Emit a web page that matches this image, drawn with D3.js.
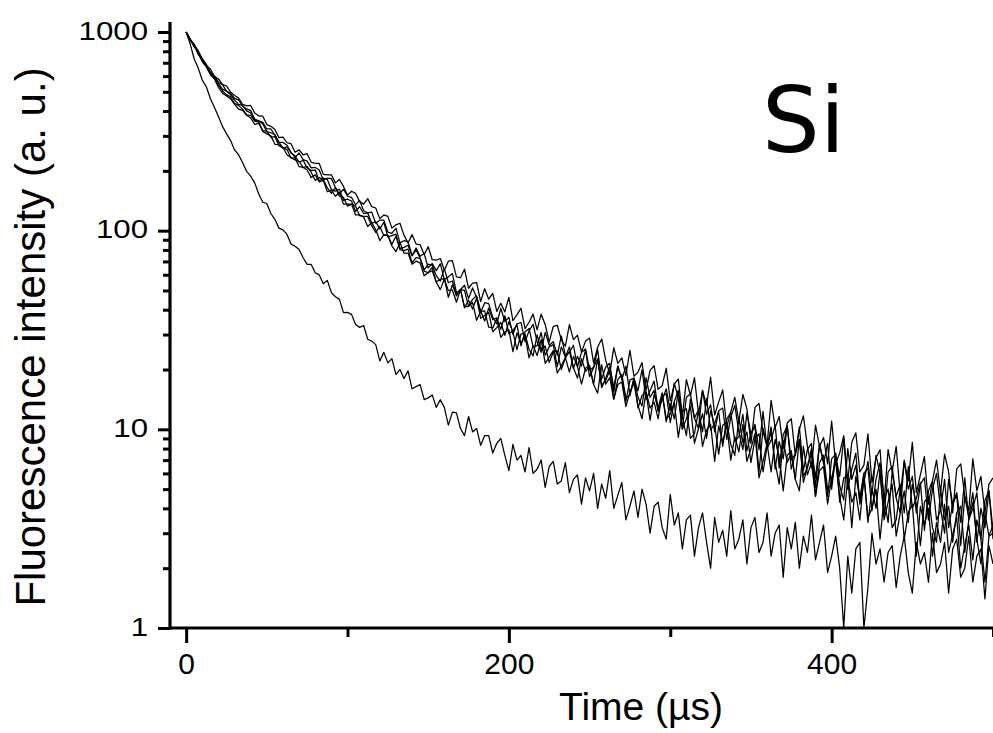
<!DOCTYPE html>
<html><head><meta charset="utf-8">
<script src="https://cdn.jsdelivr.net/npm/d3@7/dist/d3.min.js"></script>
<style>
html,body{margin:0;padding:0;background:#fff;}
svg{display:block;}
</style></head><body>
<svg id="chart" width="993" height="733"></svg>
<script>
// Time base: one sample every 2.5 µs from 0 to 500 µs
const timeStepUs = 2.5;
const sampleCount = 201;

// Fluorescence intensity (a. u.) of the six decay traces
const decayA = [
1000,910,862,805,734,678,651,599,580,546,535,499,479,465,433,425,
427,391,378,377,342,335,323,294,296,277,274,248,255,241,244,221,
218,218,192,191,191,174,181,167,151,158,154,140,136,145,132,130,
115,120,118,103,107,109,95,86.7,95.5,85.6,85.0,75.9,83.0,71.4,71.0,72.4,
63.2,70.2,70.6,58.5,58.0,64.0,51.3,54.4,54.7,44.0,51.0,45.2,48.3,39.2,43.1,39.0,
46.2,35.2,37.7,40.7,32.1,34.6,38.0,31.7,38.0,33.7,27.5,33.0,33.4,28.2,26.2,33.7,28.3,29.8,24.5,27.8,
28.8,21.6,25.9,28.5,22.3,19.0,25.8,21.5,22.9,18.7,25.0,18.5,19.4,21.7,15.7,19.8,20.9,15.9,16.6,20.3,
13.9,16.9,17.9,11.6,17.8,14.8,18.2,12.0,15.7,13.2,18.3,11.8,13.7,15.8,10.3,12.2,14.5,10.9,15.0,12.7,
8.5,12.9,13.5,9.7,8.3,14.0,10.2,11.6,8.0,10.8,11.3,7.4,10.0,11.7,8.2,6.4,10.5,8.2,9.1,6.7,
11.0,6.7,7.6,9.3,5.5,8.6,9.6,6.1,6.6,9.5,5.4,7.2,7.9,4.3,7.9,6.1,8.2,4.7,6.9,5.5,
8.6,4.8,5.9,7.3,4.2,5.5,7.0,4.8,7.5,6.1,3.8,6.3,6.7,4.6,3.9,7.1,4.9,5.8,3.8,5.3,
5.7];
const decayB = [
1000,918,865,776,732,688,626,600,559,543,504,491,463,455,423,410,
402,365,357,351,325,325,303,278,278,269,248,234,246,228,224,207,
208,202,180,184,183,165,153,162,149,147,135,142,126,123,124,109,
113,113,98.4,97.0,103,86.8,89.0,88.0,75.0,81.8,74.3,76.8,64.9,68.4,62.9,68.2,
56.7,58.6,60.8,48.7,50.4,53.1,45.5,51.5,46.2,38.7,43.4,42.9,36.6,34.0,40.7,34.9,
36.6,30.1,34.0,34.5,27.6,31.3,33.8,27.6,24.4,30.8,26.5,27.6,23.6,29.5,23.5,24.4,26.5,20.6,24.4,25.4,
19.9,20.5,25.2,17.9,20.6,21.5,15.4,20.8,17.8,20.8,14.9,18.1,15.6,20.0,14.1,15.7,17.5,12.5,14.0,16.0,
12.4,17.1,14.3,10.1,14.5,15.1,11.4,10.1,15.7,11.9,13.3,9.7,12.4,12.8,8.9,11.5,13.2,9.7,7.9,12.1,
9.5,10.6,7.9,12.3,8.0,8.8,10.5,6.4,9.4,10.4,7.0,7.5,10.3,6.2,7.9,8.5,5.1,8.4,6.7,8.5,
5.0,7.3,5.8,9.0,5.0,6.3,7.6,4.2,5.4,6.9,4.7,7.4,6.0,3.7,6.1,6.5,4.5,3.8,7.0,5.0,
5.8,3.8,5.3,5.7,3.5,5.0,6.0,4.0,3.0,5.6,4.2,4.8,3.4,5.7,3.5,4.0,4.8,2.8,4.4,4.9,
3.1];
const decayC = [
1000,922,861,773,721,682,625,598,552,516,504,484,454,432,427,401,
391,360,356,344,315,311,304,279,260,264,246,238,221,226,207,201,
202,178,184,181,161,158,162,142,144,141,125,132,122,123,109,111,
102,110,93.0,94.4,96.1,81.4,82.4,84.4,74.7,80.0,72.8,63.5,67.8,66.9,59.4,55.8,
64.4,54.7,55.8,46.9,50.5,50.1,41.6,45.1,47.0,39.4,35.1,40.8,35.6,36.4,31.9,37.3,
30.3,31.3,33.7,26.3,31.0,32.2,26.0,26.4,30.7,23.6,26.0,26.7,20.7,26.0,23.1,26.0,20.2,23.3,20.8,25.0,
18.4,20.4,22.7,16.2,18.1,20.6,16.3,20.8,18.0,13.8,17.7,18.1,14.5,13.1,18.2,14.5,15.7,12.3,14.7,15.1,
10.8,13.8,15.7,11.5,9.3,14.2,11.4,12.5,9.7,14.3,9.9,10.7,12.3,8.2,11.2,12.2,8.7,9.2,11.9,7.8,
9.5,10.3,6.1,10.1,8.1,10.3,6.3,8.7,7.1,10.4,6.3,7.5,8.9,5.4,6.5,8.0,5.7,8.4,6.9,4.6,
7.1,7.5,5.2,4.4,8.0,5.6,6.6,4.3,6.0,6.4,3.9,5.6,6.8,4.5,3.4,6.1,4.6,5.3,3.8,6.5,
4.0,4.5,5.4,3.1,4.9,5.5,3.5,3.9,5.6,3.2,4.2,4.7,2.6,4.6,3.6,4.8,2.7,4.0,3.2,4.9,
2.8];
const decayD = [
1000,912,866,779,716,676,615,587,541,505,484,472,438,426,409,383,
380,356,352,319,317,296,297,268,261,256,232,227,223,208,210,197,
179,185,181,164,154,165,149,147,133,136,133,119,118,118,106,97.9,
105,94.6,94.9,85.3,93.7,80.2,79.4,80.7,68.9,73.1,72.5,62.6,61.4,65.3,55.2,56.9,
57.3,46.2,53.4,47.5,50.7,40.9,44.7,40.3,45.8,36.2,37.4,38.8,31.0,32.5,34.5,29.7,
34.8,30.9,25.2,30.2,30.2,25.3,23.4,29.9,25.0,26.3,21.7,24.5,24.8,20.0,22.9,24.7,20.4,18.1,22.7,19.6,
20.6,16.9,22.6,16.7,17.6,19.7,14.2,17.8,18.9,14.4,14.8,18.0,12.8,14.8,15.4,11.1,15.0,12.9,15.2,10.9,
13.5,11.3,15.6,10.0,11.3,13.1,8.5,10.1,12.0,9.0,12.4,10.5,7.5,10.5,10.9,8.4,7.4,11.4,8.6,9.7,
6.8,9.0,9.5,6.1,8.2,9.7,6.8,5.3,8.8,6.8,7.6,5.6,8.9,5.8,6.4,7.6,4.6,6.8,7.4,5.0,
5.3,7.6,4.3,5.7,5.8,3.2,5.8,4.5,6.0,3.4,5.0,4.0,6.2,3.5,4.3,5.3,2.9,3.8,4.9,3.4,
5.3,4.2,2.6,4.3,4.6,3.2,2.7,5.0,3.5,4.1,2.7,3.8,4.1,2.4,3.5,4.3,2.8,2.1,3.8,2.9,
3.3];
const decayE = [
1000,915,840,799,708,667,611,580,527,492,477,462,432,409,403,381,
369,343,347,316,307,300,272,271,262,241,233,232,210,208,202,185,
191,176,179,157,160,149,156,136,136,136,120,120,117,105,110,101,
89.2,95.5,94.4,83.8,78.4,87.3,77.0,77.1,67.8,70.2,68.9,59.3,61.6,62.8,55.1,50.5,
57.1,49.9,50.3,43.6,50.5,41.3,41.6,43.5,35.4,39.2,39.5,32.7,32.4,36.0,29.0,30.9,
31.7,24.6,30.6,27.1,29.7,22.9,26.4,23.5,28.3,21.5,23.1,24.9,19.2,20.9,23.0,19.4,23.3,20.7,16.9,20.3,
21.0,16.8,15.2,21.1,16.9,18.2,14.2,16.8,17.3,13.0,15.4,17.1,13.2,11.3,15.5,12.8,13.7,11.3,15.2,11.3,
11.9,13.7,9.1,12.3,12.7,9.0,9.5,12.5,8.2,9.9,10.6,6.9,10.4,8.6,10.6,7.0,9.2,7.7,10.6,6.9,
8.0,9.5,5.7,6.9,8.5,6.1,8.9,7.3,4.9,7.4,7.8,5.6,4.9,8.2,5.9,6.8,4.6,6.2,6.5,4.2,
5.7,6.9,4.6,3.5,5.7,4.3,4.8,3.5,5.8,3.6,4.0,5.0,2.8,4.5,5.0,3.2,3.5,5.0,2.8,3.8,
4.2,2.3,4.1,3.3,4.0,2.3,3.4,2.7,4.2,2.4,2.95,3.6,2.0,2.6,3.3,2.2,3.5,2.8,1.7,2.9,
3.0];
const decayFast = [
1000,872,731,658,572,530,463,418,376,335,308,285,255,241,220,199,
188,174,153,139,137,122,114,103,101,95.7,85.6,83.5,80.3,73.1,67.7,67.6,
61.4,59.9,54.0,56.2,48.8,46.5,45.1,38.7,38.8,37.9,33.7,32.6,33.3,28.4,27.8,26.7,
22.1,24.4,21.6,22.7,18.9,20.0,18.0,19.7,16.0,16.4,16.8,14.1,14.4,14.9,12.9,14.1,
12.9,10.5,12.2,12.1,10.1,9.3,11.6,9.7,10.1,8.3,9.3,9.3,7.6,8.5,9.0,7.4,
6.2,8.4,7.0,7.4,6.1,8.1,6.0,6.3,7.0,5.1,6.5,6.9,5.3,5.5,6.8,4.8,5.6,5.9,4.2,5.7,
4.9,6.0,4.0,5.3,4.5,6.2,4.0,4.65,5.4,3.5,4.1,4.9,3.6,5.0,4.2,3.0,4.1,4.3,3.2,2.8,
4.7,3.3,3.8,2.5,3.5,3.7,2.3,3.2,3.8,2.7,2.0,3.6,2.7,3.1,2.3,3.9,2.5,2.8,3.5,2.1,
3.2,3.6,2.4,2.7,3.8,2.3,3.0,3.3,1.8,3.2,2.5,3.4,2.0,2.9,2.4,3.7,2.2,2.7,3.3,1.9,
2.3,2.9,2.0,1.0,2.3,1.5,2.5,2.7,1.0,1.6,3.0,2.1,2.5,1.7,2.4,2.6,1.6,2.3,2.9,1.9,
1.5,2.7,2.1,2.4,1.7,3.0,1.9,2.1,2.7,1.5,2.5,2.8,1.8,2.0,2.9,1.7,2.3,2.5,1.4,2.6,
2.1];

const yMajorTicks = [1, 10, 100, 1000];
const yMinorTicks = [2,3,4,5,6,7,8,9,20,30,40,50,60,70,80,90,200,300,400,500,600,700,800,900];
const xMajorTicks = [0, 200, 400];
const xMinorTicks = [100, 300, 500];
const xTitle = "Time (µs)";
const yTitle = "Fluorescence intensity (a. u.)";
const panelLabel = "Si";

const W = 993, H = 733;
const plot = {left: 170, right: 993, top: 32, bottom: 628};
const tickFont = "'Liberation Sans', Arial, Helvetica, sans-serif";

const svg = d3.select("#chart");
svg.append("rect").attr("width", W).attr("height", H).attr("fill", "#fff");

const x = d3.scaleLinear().domain([-10, 500]).range([plot.left, plot.right]);
const y = d3.scaleLog().domain([1, 1000]).range([plot.bottom, plot.top]);

const times = d3.range(sampleCount).map(i => i * timeStepUs);
const allSeries = [decayA, decayB, decayC, decayD, decayE, decayFast];

svg.append("defs").append("clipPath").attr("id", "plotClip")
  .append("rect").attr("x", plot.left).attr("y", 0)
  .attr("width", plot.right - plot.left).attr("height", plot.bottom);

const line = d3.line()
  .x((d, i) => x(times[i]))
  .y(d => y(Math.max(1, d)));

svg.append("g").attr("clip-path", "url(#plotClip)")
  .selectAll("path").data(allSeries).join("path")
  .attr("d", line)
  .attr("fill", "none")
  .attr("stroke", "#000")
  .attr("stroke-width", 1.25)
  .attr("stroke-linejoin", "round");

// Y axis
const yMajor = svg.append("g").attr("transform", `translate(${plot.left},0)`)
  .call(d3.axisLeft(y).tickValues(yMajorTicks).tickSize(12).tickPadding(10)
    .tickFormat(d3.format("d")));
const yMinor = svg.append("g").attr("transform", `translate(${plot.left},0)`)
  .call(d3.axisLeft(y).tickValues(yMinorTicks).tickSize(7).tickFormat(""));

// X axis
const xMajor = svg.append("g").attr("transform", `translate(0,${plot.bottom})`)
  .call(d3.axisBottom(x).tickValues(xMajorTicks).tickSize(15).tickPadding(10)
    .tickFormat(d3.format("d")));
const xMinor = svg.append("g").attr("transform", `translate(0,${plot.bottom})`)
  .call(d3.axisBottom(x).tickValues(xMinorTicks).tickSize(9).tickFormat(""));

[yMajor, yMinor, xMajor, xMinor].forEach(g => {
  g.select(".domain").remove();
  g.selectAll(".tick line").attr("stroke", "#000").attr("stroke-width", 3);
  g.selectAll(".tick text").attr("fill", "#000").style("font-family", tickFont);
});
xMajor.selectAll(".tick text").style("font-size", "30px");
yMajor.selectAll(".tick text").style("font-size", "26px")
  .attr("dy", "0.28em")
  .each(function() {
    const w = this.getComputedTextLength();
    d3.select(this).attr("textLength", w * 1.2).attr("lengthAdjust", "spacingAndGlyphs");
  });

// Axis lines
svg.append("line")
  .attr("x1", plot.left).attr("x2", plot.left)
  .attr("y1", y(1000) - 10).attr("y2", plot.bottom + 1.5)
  .attr("stroke", "#000").attr("stroke-width", 3.2);
svg.append("line")
  .attr("x1", plot.left).attr("x2", plot.right)
  .attr("y1", plot.bottom).attr("y2", plot.bottom)
  .attr("stroke", "#000").attr("stroke-width", 3.2);

// Titles
svg.append("text")
  .attr("x", 641).attr("y", 720)
  .attr("text-anchor", "middle")
  .style("font-family", tickFont).style("font-size", "39px")
  .attr("fill", "#000")
  .text(xTitle);

svg.append("text")
  .attr("transform", "translate(45,337) rotate(-90)")
  .attr("text-anchor", "middle")
  .style("font-family", tickFont).style("font-size", "42px")
  .attr("fill", "#000")
  .text(yTitle);

svg.append("text")
  .attr("x", 762).attr("y", 152)
  .style("font-family", "'DejaVu Sans', Verdana, sans-serif").style("font-size", "91px")
  .attr("fill", "#000")
  .text(panelLabel);
</script>
</body></html>
